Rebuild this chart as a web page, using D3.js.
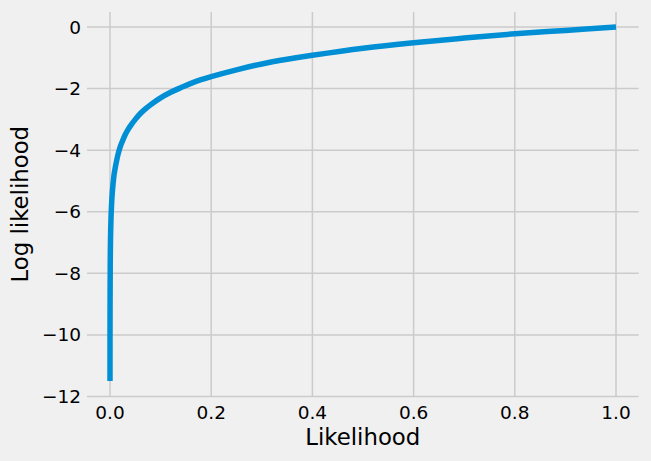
<!DOCTYPE html>
<meta charset="utf-8">
<style>
	body { margin: 0; background: #f0f0f0; }
	svg text { font-family: "DejaVu Sans", sans-serif; fill: #000; }
</style>
<body>
<script src="https://d3js.org/d3.v7.min.js"></script>
<script>

	// points
	var likelihood = [0.00001, 0.0001, 0.0005, 0.001, 0.002, 0.003, 0.004, 0.006, 0.008, 0.01, 0.013, 0.016, 0.02, 0.025, 0.03, 0.035, 0.04, 0.05, 0.06, 0.07, 0.08, 0.09, 0.1, 0.12, 0.14, 0.16, 0.18, 0.2, 0.25, 0.3, 0.35, 0.4, 0.5, 0.6, 0.7, 0.8, 0.9, 1.0];
	var logLikelihood = [-11.5, -9.2, -7.6, -6.9, -6.2, -5.8, -5.5, -5.1, -4.8, -4.6, -4.35, -4.13, -3.9, -3.69, -3.5, -3.35, -3.22, -3.0, -2.81, -2.66, -2.53, -2.41, -2.3, -2.12, -1.97, -1.83, -1.71, -1.61, -1.39, -1.2, -1.05, -0.92, -0.69, -0.51, -0.36, -0.22, -0.11, 0];
	var xTicks = [0, 0.2, 0.4, 0.6, 0.8, 1.0];
	var yTicks = [0, -2, -4, -6, -8, -10, -12];

	var width = 651, height = 461;

	var x = d3.scaleLinear().domain([0, 1]).range([110, 616]);
	var y = d3.scaleLinear().domain([-12, 0]).range([396.5, 27]);

	var plotLeft = x(-0.0455), plotRight = x(1.0447), plotTop = y(0.49), plotBottom = y(-12);

	var svg = d3.select("body").append("svg")
		.attr("width", width)
		.attr("height", height);

	svg.append("rect")
		.attr("width", width)
		.attr("height", height)
		.attr("fill", "#f0f0f0");

	// grid
	svg.append("g").selectAll("line")
		.data(xTicks)
		.enter().append("line")
		.attr("x1", function(d) { return x(d); })
		.attr("x2", function(d) { return x(d); })
		.attr("y1", plotTop)
		.attr("y2", plotBottom)
		.attr("stroke", "#cbcbcb")
		.attr("stroke-width", 1.5);

	svg.append("g").selectAll("line")
		.data(yTicks)
		.enter().append("line")
		.attr("x1", plotLeft)
		.attr("x2", plotRight)
		.attr("y1", function(d) { return y(d); })
		.attr("y2", function(d) { return y(d); })
		.attr("stroke", "#cbcbcb")
		.attr("stroke-width", 1.5);

	// tick labels
	svg.append("g").selectAll("text")
		.data(xTicks)
		.enter().append("text")
		.attr("x", function(d) { return x(d); })
		.attr("y", plotBottom + 22)
		.attr("text-anchor", "middle")
		.style("font-size", "18.5px")
		.text(function(d) { return d.toFixed(1); });

	svg.append("g").selectAll("text")
		.data(yTicks)
		.enter().append("text")
		.attr("x", plotLeft - 6)
		.attr("y", function(d) { return y(d) + 6.5; })
		.attr("text-anchor", "end")
		.style("font-size", "18.5px")
		.text(function(d) { return d < 0 ? "\u2212" + Math.abs(d) : d; });

	// the curve
	var pts = likelihood.map(function(v, i) { return [v, logLikelihood[i]]; });
	var line = d3.line()
		.x(function(d) { return x(d[0]); })
		.y(function(d) { return y(d[1]); })
		.curve(d3.curveCatmullRom.alpha(0.5));

	svg.append("path")
		.datum(pts)
		.attr("d", line)
		.attr("fill", "none")
		.attr("stroke", "#008fd5")
		.attr("stroke-width", 5.5);

	// axis labels
	svg.append("text")
		.attr("x", (plotLeft + plotRight) / 2)
		.attr("y", 445)
		.attr("text-anchor", "middle")
		.style("font-size", "22.8px")
		.text("Likelihood");

	svg.append("text")
		.attr("transform", "translate(28," + ((plotTop + plotBottom) / 2) + ") rotate(-90)")
		.attr("text-anchor", "middle")
		.style("font-size", "22.8px")
		.text("Log likelihood");

</script>
</body>
